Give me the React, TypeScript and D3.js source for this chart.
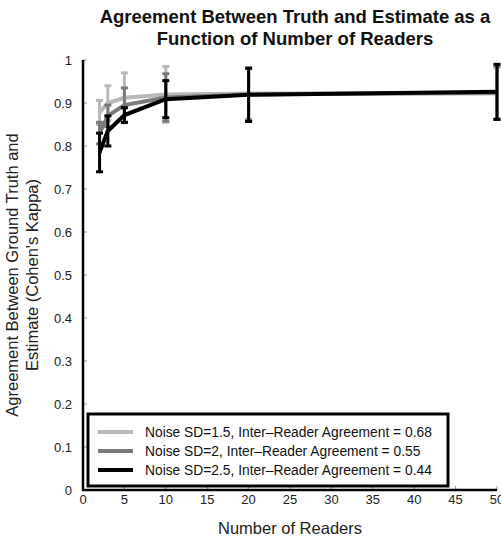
import React from "react"
import { scaleLinear, line } from "d3"

// number of readers
const readers = [2, 3, 5, 10, 20, 50]

// mean kappa and error bar half-length per noise level
const sd15Mean = [0.878, 0.9, 0.912, 0.92, 0.922, 0.922]
const sd15Err = [0.028, 0.04, 0.058, 0.065, 0.06, 0.06]
const sd2Mean = [0.83, 0.87, 0.895, 0.913, 0.92, 0.924]
const sd2Err = [0.025, 0.025, 0.04, 0.055, 0.06, 0.062]
const sd25Mean = [0.785, 0.835, 0.872, 0.909, 0.919, 0.926]
const sd25Err = [0.045, 0.035, 0.017, 0.043, 0.062, 0.064]

const legendLabels = [
  "Noise SD=1.5, Inter\u2013Reader Agreement = 0.68",
  "Noise SD=2, Inter\u2013Reader Agreement = 0.55",
  "Noise SD=2.5, Inter\u2013Reader Agreement = 0.44",
]
const xTicks = [0, 5, 10, 15, 20, 25, 30, 35, 40, 45, 50]
const yTicks = [0, 0.1, 0.2, 0.3, 0.4, 0.5, 0.6, 0.7, 0.8, 0.9, 1]

const series = [
  { mean: sd15Mean, err: sd15Err, color: "#b8b8b8" },
  { mean: sd2Mean, err: sd2Err, color: "#7a7a7a" },
  { mean: sd25Mean, err: sd25Err, color: "#000000" },
]

const font = "'Liberation Sans', Arial, Helvetica, sans-serif"

export default function App() {
  const x = scaleLinear().domain([0, 50]).range([83, 497])
  const y = scaleLinear().domain([0, 1]).range([490, 60])

  const path = line<number>()
    .x((d, i) => x(readers[i]))
    .y((d) => y(d))

  return (
    <svg
      width={501}
      height={538}
      style={{ position: "absolute", left: 0, top: 0, background: "#fff" }}
      fontFamily={font}
    >
      <text x={295} y={23} textAnchor="middle" fontSize={18.5} fontWeight="bold" fill="#111">
        Agreement Between Truth and Estimate as a
      </text>
      <text x={295} y={45} textAnchor="middle" fontSize={18.5} fontWeight="bold" fill="#111">
        Function of Number of Readers
      </text>

      {/* ticks */}
      {xTicks.map((t) => (
        <g key={"x" + t}>
          <line x1={x(t)} x2={x(t)} y1={y(0)} y2={y(0) - 4} stroke="#999" strokeWidth={1} />
          <text x={x(t)} y={504} textAnchor="middle" fontSize={13} fill="#222">
            {t}
          </text>
        </g>
      ))}
      {yTicks.map((t) => (
        <g key={"y" + t}>
          <line x1={x(0)} x2={x(0) + 4} y1={y(t)} y2={y(t)} stroke="#999" strokeWidth={1} />
          <text x={72} y={y(t) + 4.5} textAnchor="end" fontSize={13} fill="#222">
            {t === 0 || t === 1 ? t : t.toFixed(1)}
          </text>
        </g>
      ))}

      {/* axis lines */}
      <line x1={x(0)} x2={x(0)} y1={y(1)} y2={y(0) + 1} stroke="#000" strokeWidth={2.5} />
      <line x1={x(0) - 1} x2={x(50)} y1={y(0)} y2={y(0)} stroke="#000" strokeWidth={2.5} />

      {/* series */}
      {series.map((s, si) => (
        <g key={si}>
          <path d={path(s.mean) || ""} fill="none" stroke={s.color} strokeWidth={4} />
          {readers.map((r, i) => {
            const cx = x(r)
            const top = y(s.mean[i] + s.err[i])
            const bot = y(s.mean[i] - s.err[i])
            return (
              <g key={i} stroke={s.color} strokeWidth={3}>
                <line x1={cx} x2={cx} y1={top} y2={bot} />
                <line x1={cx - 3.5} x2={cx + 3.5} y1={top} y2={top} />
                <line x1={cx - 3.5} x2={cx + 3.5} y1={bot} y2={bot} />
              </g>
            )
          })}
        </g>
      ))}

      {/* legend */}
      <rect x={88} y={414} width={360} height={72} fill="#fff" stroke="#000" strokeWidth={3} />
      {legendLabels.map((l, i) => (
        <g key={l}>
          <line
            x1={98}
            x2={133}
            y1={432 + i * 19}
            y2={432 + i * 19}
            stroke={series[i].color}
            strokeWidth={4}
          />
          <text x={145} y={437 + i * 19} fontSize={13.8} fill="#111">
            {l}
          </text>
        </g>
      ))}

      <text x={290} y={534} textAnchor="middle" fontSize={16.5} fill="#222">
        Number of Readers
      </text>
      <text
        transform={`translate(18, ${y(0.5)}) rotate(-90)`}
        textAnchor="middle"
        fontSize={16.5}
        fill="#222"
      >
        Agreement Between Ground Truth and
      </text>
      <text
        transform={`translate(38, ${y(0.5)}) rotate(-90)`}
        textAnchor="middle"
        fontSize={16.5}
        fill="#222"
      >
        Estimate (Cohen's Kappa)
      </text>
    </svg>
  )
}
